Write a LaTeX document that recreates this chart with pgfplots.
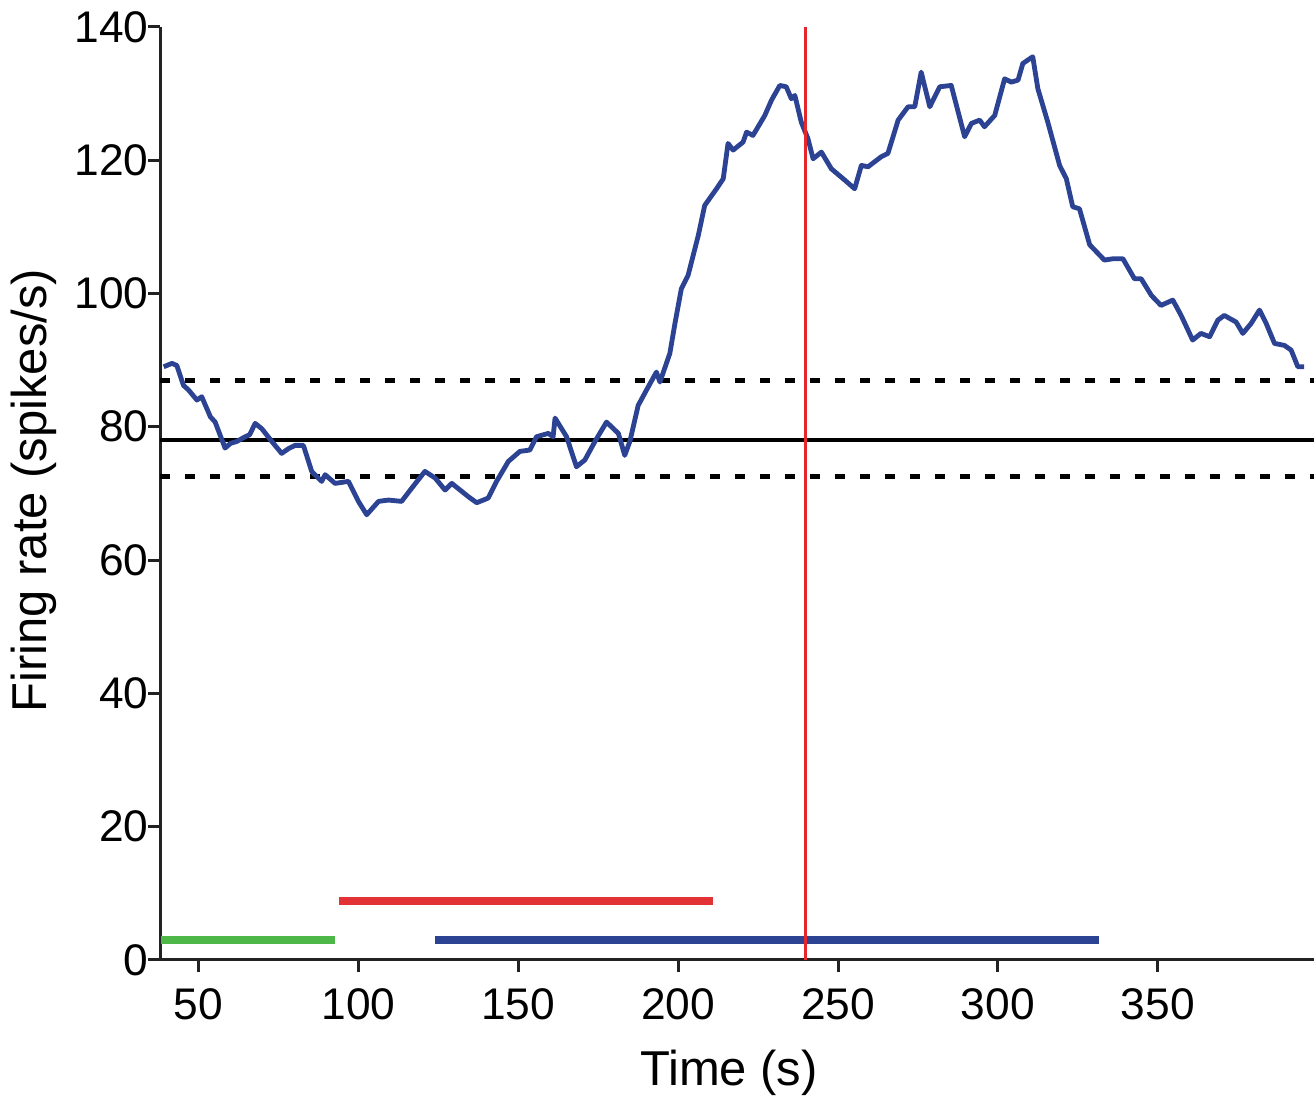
\documentclass[border=0pt]{standalone}
\usepackage{pgfplots}
\pgfplotsset{compat=1.18}
\usepackage{fontspec}
\setmainfont{Liberation Sans}
\definecolor{curveblue}{HTML}{2C4394}
\definecolor{vred}{HTML}{E5262B}
\definecolor{bgreen}{HTML}{4DB848}
\definecolor{bred}{HTML}{E23236}
\definecolor{axgray}{HTML}{222222}
\begin{document}
\begin{tikzpicture}
\begin{axis}[
  scale only axis,
  width=346.2pt, height=280.2pt,
  xmin=38.1, xmax=398.7,
  ymin=0, ymax=140,
  axis x line=bottom, axis y line=left,
  axis line style={-, line width=0.9pt, color=axgray},
  xtick={50,100,150,200,250,300,350},
  ytick={0,20,40,60,80,100,120,140},
  tick align=outside,
  major tick length=3.6pt,
  tick style={line width=0.9pt, color=axgray},
  /pgf/number format/assume math mode=true,
  ticklabel style={font=\fontsize{13.3}{15}\selectfont},
  xticklabel style={yshift=-1.5pt},
  yticklabel style={xshift=3.5pt},
  xlabel={Time (s)},
  ylabel={Firing rate (spikes/s)},
  every axis x label/.style={at={(axis description cs:0.493,0)}, anchor=center, yshift=-34pt, font=\fontsize{14.7}{17}\selectfont},
  every axis y label/.style={at={(axis description cs:0,0.503)}, rotate=90, anchor=center, yshift=38pt, font=\fontsize{14.7}{17}\selectfont},
  clip=false,
]
% reference lines
\addplot[black, line width=1.2pt] coordinates {(38.1,78.0) (398.7,78.0)};
\addplot[black, line width=1.5pt, dash pattern=on 3pt off 4.5pt] coordinates {(38.1,87.0) (398.7,87.0)};
\addplot[black, line width=1.5pt, dash pattern=on 3pt off 4.5pt] coordinates {(38.1,72.6) (398.7,72.6)};
% bars
\addplot[bgreen, line width=2.4pt] coordinates {(38.3,3.0) (92.8,3.0)};
\addplot[bred, line width=2.4pt] coordinates {(94.0,8.8) (211.0,8.8)};
\addplot[curveblue, line width=2.4pt] coordinates {(124.0,3.0) (331.6,3.0)};
% curve
\addplot[curveblue, line width=1.45pt, line join=round] coordinates {
(39.1,89.0) (41.7,89.5) (43.2,89.2) (45.3,86.2) (46.9,85.5) (49.5,84.0) (51.0,84.5)
(53.7,81.5) (55.2,80.7) (58.3,76.8) (60.0,77.5) (62.0,77.8) (64.6,78.5) (66.0,78.8)
(67.7,80.5) (69.8,79.7) (72.9,77.8) (76.0,76.0) (78.1,76.7) (80.2,77.2) (82.8,77.2)
(85.4,73.3) (88.5,71.8) (89.6,72.8) (92.7,71.5) (96.9,71.8) (100.0,68.8) (102.6,66.8)
(106.3,68.8) (109.4,69.0) (113.5,68.8) (116.7,70.8) (120.8,73.3) (124.0,72.3)
(127.1,70.5) (129.2,71.5) (134.4,69.5) (137.0,68.6) (140.6,69.3) (143.2,71.8)
(146.9,74.8) (150.5,76.3) (153.6,76.5) (155.7,78.5) (159.4,79.0) (160.9,78.5)
(161.5,81.3) (165.1,78.5) (168.2,74.0) (170.8,75.0) (174.0,77.8) (177.6,80.7)
(181.3,79.0) (183.3,75.7) (184.9,77.8) (187.5,83.2) (190.1,85.5) (193.2,88.2)
(194.3,86.7) (197.4,91.0) (199.0,95.5) (201.0,100.7) (203.1,102.7) (206.3,108.7)
(208.3,113.2) (212.0,115.7) (214.1,117.2) (215.6,122.5) (217.2,121.5) (220.3,122.7)
(221.4,124.2) (223.4,123.7) (227.1,126.7) (229.2,129.0) (231.8,131.2) (233.8,131.0)
(235.4,129.2) (236.5,129.7) (238.5,125.7) (240.6,123.2) (242.2,120.2) (244.8,121.2)
(247.9,118.7) (252.1,117.0) (255.2,115.7) (257.3,119.2) (259.4,119.0) (263.5,120.5)
(265.6,121.0) (268.8,126.0) (271.9,128.0) (274.0,128.0) (276.0,133.2) (278.7,128.0)
(281.8,131.0) (285.4,131.2) (289.6,123.5) (291.7,125.5) (294.3,126.0) (295.8,125.0)
(299.0,126.7) (302.1,132.2) (304.2,131.7) (306.3,132.0) (307.8,134.5) (310.9,135.5)
(312.5,130.7) (315.6,125.7) (319.3,119.2) (321.4,117.2) (323.4,113.0) (325.5,112.7)
(328.7,107.3) (333.3,105.0) (336.0,105.2) (339.1,105.2) (342.7,102.2) (344.8,102.2)
(348.0,99.7) (351.0,98.2) (354.7,99.0) (357.3,96.7) (360.9,93.0) (363.5,94.0)
(366.2,93.5) (368.8,96.0) (370.8,96.7) (374.5,95.7) (376.6,94.0) (379.2,95.5)
(381.8,97.5) (383.9,95.5) (386.5,92.5) (389.6,92.2) (391.7,91.5) (393.8,89.0) (395.8,89.0)
};
% red vertical line
\addplot[vred, line width=0.9pt] coordinates {(239.7,0) (239.7,140)};
\end{axis}
\end{tikzpicture}
\end{document}
